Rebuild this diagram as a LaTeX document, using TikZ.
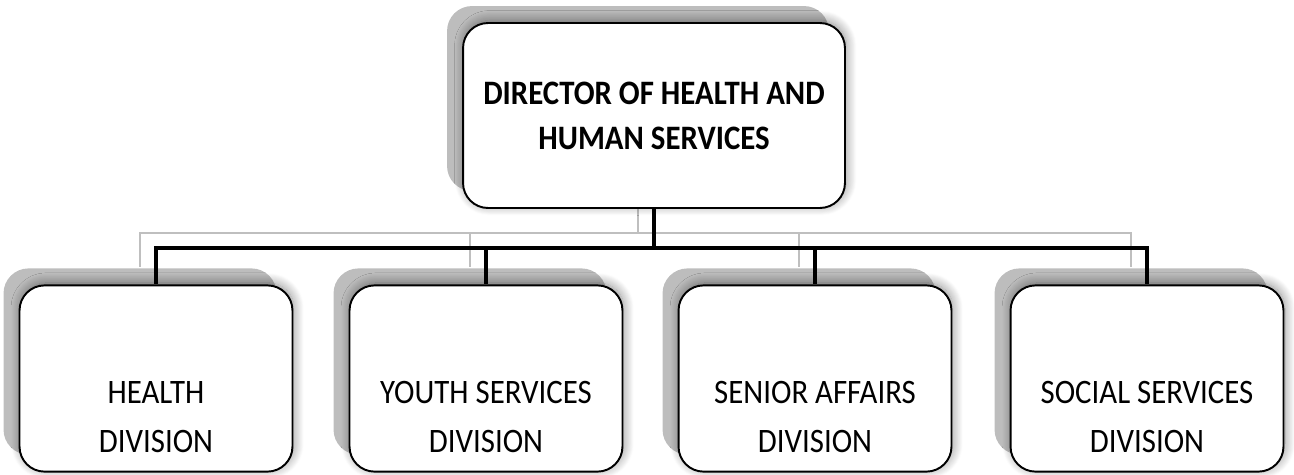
\documentclass[tikz,border=0pt]{standalone}
\usepackage{fontspec}
\setmainfont{Carlito}[FakeStretch=0.9]
\usetikzlibrary{positioning,shadows,shadows.blur,backgrounds}

\tikzset{
  orgbox/.style={draw=black, line width=1.1pt, fill=white, rounded corners=0.5cm,
    drop shadow={shadow xshift=-0.32cm, shadow yshift=0.34cm, draw=none, fill=black!26, opacity=1},
    blur shadow={shadow xshift=0.03cm, shadow yshift=0.05cm, shadow blur radius=0.2cm,
      shadow blur steps=12, shadow opacity=45}},
  headbox/.style={orgbox, minimum width=7.64cm, minimum height=3.7cm, align=center,
    font=\fontsize{19.5}{25.5}\selectfont\bfseries},
  divbox/.style={orgbox, minimum width=5.46cm, minimum height=3.72cm, inner ysep=0.38cm,
    font=\fontsize{19.5}{28}\selectfont},
  conn/.style={line width=1.8pt, black},
  connshade/.style={line width=1.5pt, black!25},
}
\newcommand{\divtext}[1]{\parbox[b][2.96cm][b]{5.2cm}{\centering #1}}

\begin{document}
\begin{tikzpicture}[x=0.02cm, y=-0.02cm]
  \useasboundingbox (0,0) rectangle (1294,474);

  \node[headbox] (director) at (654,115.5) {DIRECTOR OF HEALTH AND\\HUMAN SERVICES};

  \node[divbox] (health) at (156,378.5) {\divtext{HEALTH\\DIVISION}};
  \node[divbox] (youth)  at (486,378.5) {\divtext{YOUTH SERVICES\\DIVISION}};
  \node[divbox] (senior) at (815,378.5) {\divtext{SENIOR AFFAIRS\\DIVISION}};
  \node[divbox] (social) at (1147,378.5) {\divtext{SOCIAL SERVICES\\DIVISION}};

  % shaded copy of the connectors
  \begin{scope}[on background layer]
    \foreach \d in {health,youth,senior,social}
      \draw[connshade] ([xshift=-0.32cm]director.south) -- ++(0,24)
        -| ([xshift=-0.32cm,yshift=0.34cm]\d.north);
  \end{scope}

  \foreach \d in {health,youth,senior,social}
    \draw[conn] (director.south) -- ++(0,39) -| (\d.north);
\end{tikzpicture}
\end{document}
